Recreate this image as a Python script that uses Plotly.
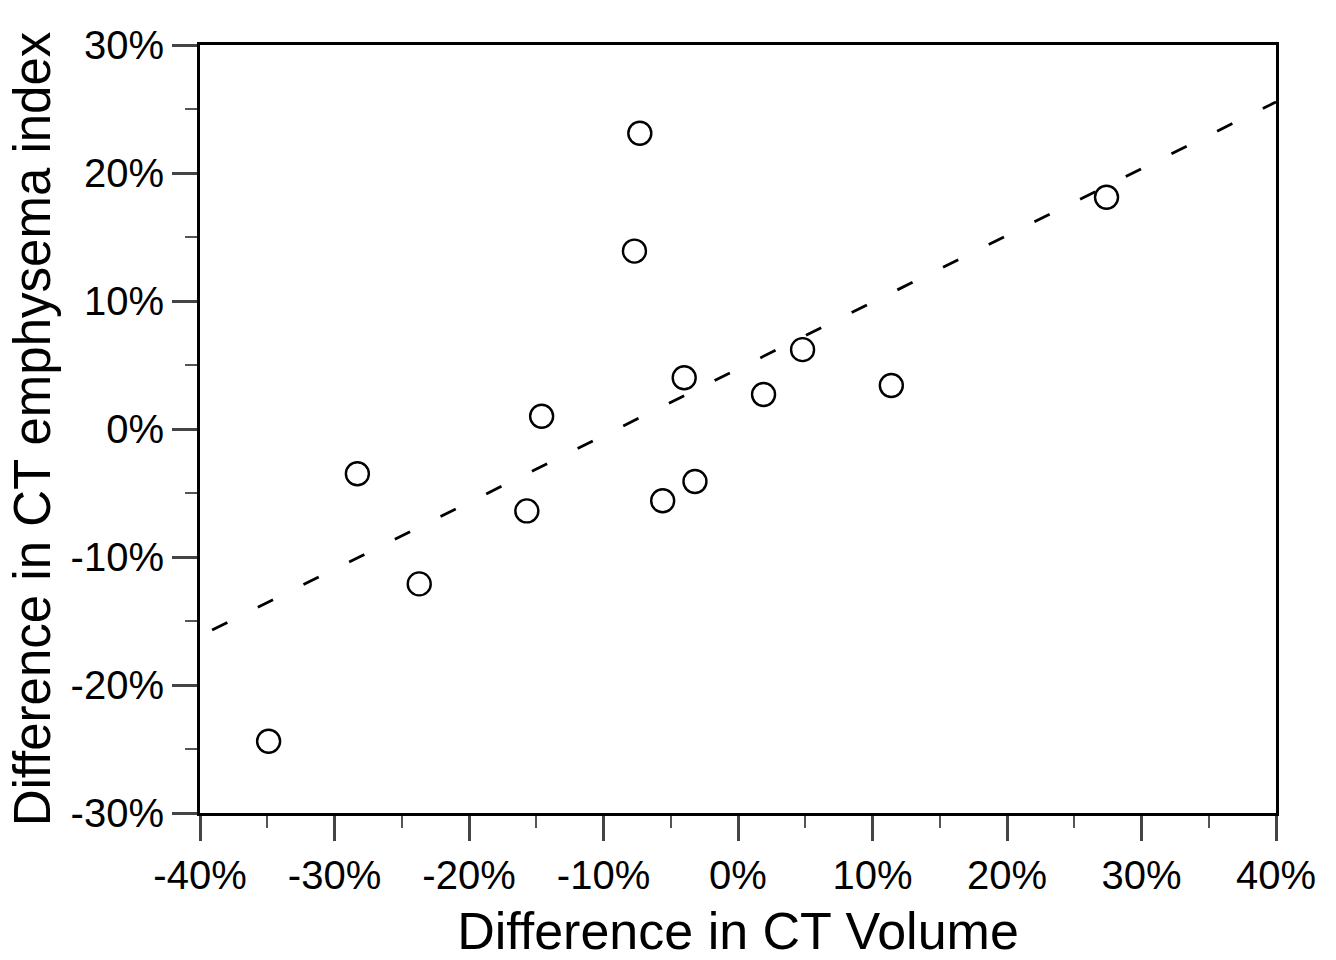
import plotly.graph_objects as go

# Data (percent)
volume_diff = [-34.9, -28.3, -23.7, -15.7, -14.6, -7.3, -7.7, -5.6, -4.0, -3.2, 1.9, 4.8, 11.4, 27.4]
emph_diff = [-24.4, -3.5, -12.1, -6.4, 1.0, 23.1, 13.9, -5.6, 4.0, -4.1, 2.7, 6.2, 3.4, 18.1]

# Regression line end points
fit_x = [-39.1, 40.0]
fit_y = [-15.7, 25.55]

x_tick_vals = [-40, -30, -20, -10, 0, 10, 20, 30, 40]
x_tick_text = ["-40%", "-30%", "-20%", "-10%", "0%", "10%", "20%", "30%", "40%"]
y_tick_vals = [-30, -20, -10, 0, 10, 20, 30]
y_tick_text = ["-30%", "-20%", "-10%", "0%", "10%", "20%", "30%"]

font_family = "Liberation Sans, Arial, sans-serif"

fig = go.Figure()
fig.add_trace(go.Scatter(
    x=fit_x, y=fit_y, mode="lines",
    line=dict(color="black", width=2.8, dash="17px,34px"),
    hoverinfo="skip", showlegend=False,
))
fig.add_trace(go.Scatter(
    x=volume_diff, y=emph_diff, mode="markers",
    marker=dict(symbol="circle-open", size=23, color="black", line=dict(width=2.4)),
    showlegend=False,
))

axis_common = dict(
    showgrid=False, zeroline=False, automargin=False,
    showline=True, linecolor="black", linewidth=3, mirror=True,
    ticks="outside", ticklen=25, tickwidth=2.5, tickcolor="#444",
    tickfont=dict(family=font_family, size=40, color="black"),
)

fig.update_xaxes(
    range=[-40, 40], tickmode="array", tickvals=x_tick_vals, ticktext=x_tick_text,
    minor=dict(ticks="outside", ticklen=12, tickwidth=2, tickcolor="#555", dtick=5, tick0=0, showgrid=False),
    title=dict(text="Difference in CT Volume", font=dict(family=font_family, size=52, color="black"), standoff=20),
    **axis_common,
)
fig.update_yaxes(
    range=[-30, 30], tickmode="array", tickvals=y_tick_vals, ticktext=y_tick_text,
    minor=dict(ticks="outside", ticklen=12, tickwidth=2, tickcolor="#555", dtick=5, tick0=0, showgrid=False),
    title=dict(text="Difference in CT emphysema index", font=dict(family=font_family, size=51, color="black"), standoff=4),
    **axis_common,
)

fig.update_layout(
    width=1336, height=960,
    margin=dict(l=200, r=60, t=45, b=147),
    paper_bgcolor="white", plot_bgcolor="white",
    font=dict(family=font_family, color="black"),
)

fig.write_html("out.html")
